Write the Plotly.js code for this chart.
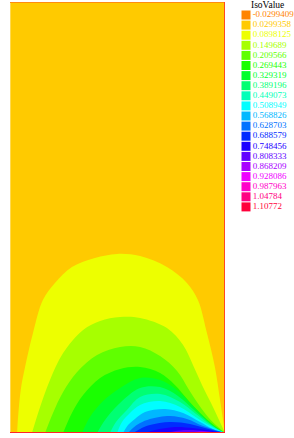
<!DOCTYPE html>
<html>
<head>
<meta charset="utf-8">
<script src="https://cdn.plot.ly/plotly-3.0.1.min.js"></script>
<style>html,body{margin:0;padding:0;background:#fff;}#chart{width:294px;height:438px;}</style>
</head>
<body>
<div id="chart"></div>
<script>
// Iso levels shown in the legend
const levels = [-0.0299409, 0.0299358, 0.0898125, 0.149689, 0.209566, 0.269443, 0.329319, 0.389196, 0.449073, 0.508949, 0.568826, 0.628703, 0.688579, 0.748456, 0.808333, 0.868209, 0.928086, 0.987963, 1.04784, 1.10772];
const legendTitle = 'IsoValue';

// Domain outline (x in [0,1], y in [0,2])
const domainX = [0, 1, 1, 0];
const domainY = [0, 0, 2, 2];

// Iso-line boundaries; region inside each curve has value >= that level
const b2x = [0.033,0.038,0.050,0.070,0.107,0.153,0.209,0.288,0.395,0.498,0.605,0.730,0.823,0.874,0.916,0.953,0.977,1.0];
const b2y = [0,0.080,0.200,0.306,0.464,0.617,0.696,0.770,0.812,0.831,0.821,0.770,0.696,0.617,0.464,0.306,0.153,0];
const b3x = [0.102,0.140,0.186,0.247,0.340,0.419,0.512,0.605,0.730,0.805,0.851,0.893,0.935,0.970,1.0];
const b3y = [0,0.121,0.246,0.371,0.478,0.520,0.538,0.534,0.487,0.408,0.316,0.223,0.139,0.065,0];
const b4x = [0.163,0.200,0.247,0.312,0.405,0.512,0.605,0.698,0.777,0.833,0.879,0.925,0.963,1.0];
const b4y = [0,0.093,0.190,0.283,0.362,0.399,0.399,0.357,0.288,0.200,0.130,0.070,0.032,0];
const b5x = [0.247,0.288,0.340,0.419,0.512,0.605,0.698,0.767,0.828,0.884,0.944,1.0];
const b5y = [0,0.093,0.176,0.255,0.297,0.306,0.278,0.223,0.153,0.093,0.040,0];
const b6x = [0.335,0.372,0.433,0.512,0.605,0.698,0.777,0.847,0.907,0.955,1.0];
const b6y = [0,0.074,0.148,0.209,0.255,0.246,0.200,0.130,0.070,0.028,0];
const b7x = [0.405,0.442,0.502,0.605,0.698,0.781,0.856,0.916,0.963,1.0];
const b7y = [0,0.060,0.130,0.209,0.213,0.172,0.107,0.056,0.019,0];
const b8x = [0.465,0.493,0.544,0.605,0.698,0.791,0.865,0.926,1.0];
const b8y = [0,0.051,0.107,0.167,0.181,0.144,0.088,0.042,0];
const b9x = [0.498,0.521,0.558,0.605,0.698,0.791,0.870,0.940,1.0];
const b9y = [0,0.051,0.093,0.130,0.148,0.121,0.070,0.028,0];
const b10x = [0.526,0.549,0.581,0.628,0.721,0.805,0.884,0.944,1.0];
const b10y = [0,0.037,0.065,0.097,0.111,0.093,0.051,0.019,0];
const b11x = [0.549,0.572,0.605,0.651,0.744,0.823,0.898,0.953,1.0];
const b11y = [0,0.023,0.046,0.065,0.079,0.065,0.032,0.014,0];
const b12x = [0.572,0.605,0.651,0.744,0.837,0.907,0.958,1.0];
const b12y = [0,0.019,0.037,0.051,0.042,0.023,0.009,0];
const b13x = [0.628,0.674,0.767,0.851,0.916,0.963,1.0];
const b13y = [0,0.014,0.028,0.023,0.014,0.005,0];
const b14x = [0.721,0.791,0.874,0.940,1.0];
const b14y = [0,0.012,0.012,0.005,0];
const b15x = [0.814,0.884,0.944,1.0];
const b15y = [0,0.007,0.005,0];
const b16x = [0.884,0.940,1.0];
const b16y = [0,0.005,0];
const b17x = [0.921,0.963,1.0];
const b17y = [0,0.005,0];
const b18x = [0.949,0.977,1.0];
const b18y = [0,0.004,0];
const b19x = [0.967,0.986,1.0];
const b19y = [0,0.002,0];

const boundaries = [
  [2,b2x,b2y],[3,b3x,b3y],[4,b4x,b4y],[5,b5x,b5y],[6,b6x,b6y],[7,b7x,b7y],
  [8,b8x,b8y],[9,b9x,b9y],[10,b10x,b10y],[11,b11x,b11y],[12,b12x,b12y],
  [13,b13x,b13y],[14,b14x,b14y],[15,b15x,b15y],[16,b16x,b16y],[17,b17x,b17y],
  [18,b18x,b18y],[19,b19x,b19y]
];

function levelColor(i){
  const h = 31 + i*315/19;
  return 'hsl(' + h.toFixed(1) + ',100%,50%)';
}

const traces = [];
// base band (value between level 1 and 2) covers the whole domain
traces.push({
  type:'scatter', mode:'lines', x:domainX, y:domainY, fill:'toself',
  fillcolor: levelColor(1), line:{width:0, color: levelColor(1)},
  hoverinfo:'skip', showlegend:false
});
boundaries.forEach(function(b){
  traces.push({
    type:'scatter', mode:'lines', x:b[1], y:b[2], fill:'toself',
    fillcolor: levelColor(b[0]),
    line:{width:0, shape:'spline', smoothing:1, color: levelColor(b[0])},
    hoverinfo:'skip', showlegend:false, xaxis:'x', yaxis:'y'
  });
});

// domain border
traces.push({type:'scatter', mode:'lines', x:[0,0], y:[0,2], line:{color:'#FFE9A0', width:1}, cliponaxis:false, hoverinfo:'skip', showlegend:false});
traces.push({type:'scatter', mode:'lines', x:[0,1], y:[2,2], line:{color:'#FF8C10', width:2}, cliponaxis:false, hoverinfo:'skip', showlegend:false});
traces.push({type:'scatter', mode:'lines', x:[1,1], y:[2,0], line:{color:'#FF4A20', width:2}, cliponaxis:false, hoverinfo:'skip', showlegend:false});
traces.push({type:'scatter', mode:'lines', x:[1,0], y:[0,0], line:{color:'#FF2626', width:2}, cliponaxis:false, hoverinfo:'skip', showlegend:false});

// color legend
const legY = levels.map(function(v,i){ return 15 + i*10.1; });
const legColors = levels.map(function(v,i){ return levelColor(i); });
traces.push({
  type:'scatter', mode:'markers+text', xaxis:'x2', yaxis:'y2',
  x: levels.map(function(){ return 246; }), y: legY,
  text: levels.map(function(v){ return String(v); }),
  textposition:'middle right',
  textfont:{family:'Liberation Serif', size:9, color: legColors},
  marker:{symbol:'square', size:9, color: legColors, line:{width:0}},
  cliponaxis:false, hoverinfo:'skip', showlegend:false
});

const layout = {
  width:294, height:438,
  margin:{l:0,r:0,t:0,b:0,pad:0},
  paper_bgcolor:'#ffffff',
  plot_bgcolor:'#ffffff',
  showlegend:false,
  xaxis:{domain:[10/294, 225/294], range:[0,1], visible:false, fixedrange:true},
  yaxis:{domain:[5/438, 436/438], range:[0,2], visible:false, fixedrange:true},
  xaxis2:{domain:[230/294, 1], range:[230,294], visible:false, anchor:'y2'},
  yaxis2:{domain:[0,1], range:[438,0], visible:false, anchor:'x2'},
  annotations:[{
    xref:'x2', yref:'y2', x:249, y:5, xanchor:'left', yanchor:'middle',
    text: legendTitle, showarrow:false,
    font:{family:'Liberation Serif', size:9.5, color:'#000000'}
  }]
};

Plotly.newPlot('chart', traces, layout, {staticPlot:true, displayModeBar:false});
</script>
</body>
</html>
